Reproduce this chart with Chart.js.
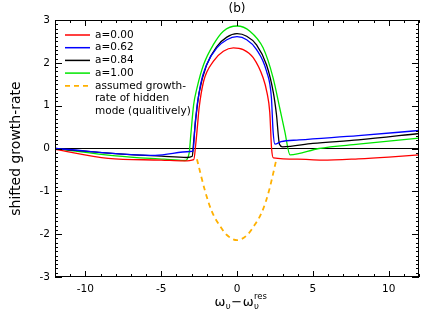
<!DOCTYPE html>
<html lang="en">
<head>
<meta charset="UTF-8">
<title>(b) shifted growth-rate</title>
<script src="https://cdn.jsdelivr.net/npm/chart.js"></script>
<style>
  html, body { margin: 0; padding: 0; background: #fff; }
  #wrap { width: 436px; height: 312px; }
</style>
</head>
<body>
<div id="wrap"><canvas id="chart"></canvas></div>
<script>
// values
const xTicks = [-10, -5, 0, 5, 10];
const yTicks = [-3, -2, -1, 0, 1, 2, 3];

const redX = [-12, -8.5, -5, -3.5, -2.85, -2.72, -2.6, -2.5, -2.2, -1.55, -0.9, -0.24, 0.41, 1.07, 1.72, 1.98, 2.16, 2.28, 2.4, 4, 5.6, 8, 10, 12];
const redY = [-0.02, -0.23, -0.27, -0.29, -0.26, 0.1, 0.55, 0.94, 1.57, 2.04, 2.27, 2.35, 2.31, 2.12, 1.65, 1.3, 0.85, 0.0, -0.22, -0.25, -0.27, -0.24, -0.2, -0.15];

const blueX = [-12, -5.4, -3.1, -2.9, -2.86, -2.75, -2.4, -2.0, -1.33, -0.67, 0, 0.64, 1.29, 1.95, 2.27, 2.38, 2.5, 2.9, 4.1, 8, 12];
const blueY = [0, -0.16, -0.07, -0.06, 0.05, 0.63, 1.5, 1.96, 2.35, 2.54, 2.61, 2.54, 2.31, 1.8, 1.18, 0.4, 0.1, 0.16, 0.2, 0.3, 0.42];

const blackX = [-12, -8, -5, -3.3, -2.95, -2.85, -2.7, -2.5, -2.0, -1.33, -0.67, 0, 0.64, 1.29, 1.95, 2.4, 2.6, 2.8, 3.0, 5, 8, 12];
const blackY = [0, -0.12, -0.18, -0.21, -0.18, 0.2, 0.75, 1.3, 1.95, 2.38, 2.6, 2.68, 2.62, 2.42, 1.95, 1.3, 0.8, 0.1, 0.04, 0.12, 0.2, 0.35];

const greenX = [-12, -8, -4.8, -3.45, -3.15, -3.05, -2.86, -2.64, -2.2, -1.55, -0.9, 0, 0.85, 1.72, 2.38, 2.82, 3.15, 3.5, 5.4, 8, 12];
const greenY = [0, -0.17, -0.25, -0.28, -0.1, 0.3, 1.02, 1.41, 1.96, 2.43, 2.74, 2.86, 2.74, 2.35, 1.65, 0.94, 0.4, -0.15, 0, 0.1, 0.24];

const hiddenX = [-2.64, -2.1, -1.66, -1.1, -0.67, 0, 0.67, 1.1, 1.66, 2.1, 2.6];
const hiddenY = [-0.25, -1.0, -1.47, -1.82, -2.02, -2.14, -2.02, -1.82, -1.47, -1.0, -0.25];

const zeroX = [-12, 12];
const zeroY = [0, 0];

const legendLabels = [
  ['a=0.00'],
  ['a=0.62'],
  ['a=0.84'],
  ['a=1.00'],
  ['assumed growth-', 'rate of hidden', 'mode (qualitively)']
];

function pts(xs, ys) {
  return xs.map((x, i) => ({ x: x, y: ys[i] }));
}

const FONT = 'DejaVu Sans';

// box, inward ticks, legend and titles
const frame = {
  id: 'frame',
  afterDatasetsDraw(chart) {
    const ctx = chart.ctx;
    const a = chart.chartArea;
    const xs = chart.scales.x, ys = chart.scales.y;
    ctx.save();
    ctx.strokeStyle = '#000';
    ctx.lineWidth = 1;
    ctx.strokeRect(a.left + 0.5, a.top + 0.5, a.right - a.left - 1, a.bottom - a.top - 1);

    ctx.beginPath();
    for (let v = -12; v <= 12; v++) {
      const px = Math.round(xs.getPixelForValue(v)) + 0.5;
      const len = v % 5 === 0 ? 6 : 3;
      ctx.moveTo(px, a.bottom); ctx.lineTo(px, a.bottom - len);
      ctx.moveTo(px, a.top); ctx.lineTo(px, a.top + len);
    }
    for (let k = -30; k <= 30; k++) {
      const py = Math.round(ys.getPixelForValue(k / 10)) + 0.5;
      const len = k % 10 === 0 ? 7 : 3;
      ctx.moveTo(a.left, py); ctx.lineTo(a.left + len, py);
      ctx.moveTo(a.right, py); ctx.lineTo(a.right - len, py);
    }
    ctx.stroke();

    // legend
    ctx.font = '10.5px "' + FONT + '"';
    ctx.textBaseline = 'middle';
    ctx.fillStyle = '#000';
    let y = a.top + 15;
    chart.data.datasets.forEach((ds, i) => {
      if (!legendLabels[i]) return;
      ctx.save();
      ctx.strokeStyle = ds.borderColor;
      ctx.lineWidth = ds.borderWidth || 1.5;
      ctx.setLineDash(ds.borderDash || []);
      ctx.beginPath();
      ctx.moveTo(a.left + 10, y); ctx.lineTo(a.left + 35, y);
      ctx.stroke();
      ctx.restore();
      legendLabels[i].forEach(line => {
        ctx.fillText(line, a.left + 40, y);
        y += 12.7;
      });
    });

    // top title
    ctx.textAlign = 'center';
    ctx.textBaseline = 'alphabetic';
    ctx.font = '12px "' + FONT + '"';
    ctx.fillText('(b)', (a.left + a.right) / 2, 12);

    // x axis title with sub- and superscripts
    const base = 306;
    const main = '13px "' + FONT + '"', small = '8.5px "' + FONT + '"';
    const parts = [
      { t: 'ω', f: main, dy: 0 },
      { t: 'υ', f: small, dy: 3 },
      { t: '−', f: main, dy: 0 },
      { t: 'ω', f: main, dy: 0 },
      { t: 'υ', f: small, dy: 3, sup: 'res' }
    ];
    let total = 0;
    parts.forEach(p => {
      ctx.font = p.f;
      p.w = ctx.measureText(p.t).width;
      if (p.sup) p.w = Math.max(p.w, ctx.measureText(p.sup).width);
      total += p.w + 0.5;
    });
    let x = (a.left + a.right) / 2 + 4 - total / 2;
    ctx.textAlign = 'left';
    parts.forEach(p => {
      ctx.font = p.f;
      ctx.fillText(p.t, x, base + p.dy);
      if (p.sup) ctx.fillText(p.sup, x, base - 7);
      x += p.w + 0.5;
    });
    ctx.restore();
  }
};

new Chart(document.getElementById('chart'), {
  type: 'line',
  data: {
    datasets: [
      { label: 'a=0.00', data: pts(redX, redY), borderColor: '#ff0000' },
      { label: 'a=0.62', data: pts(blueX, blueY), borderColor: '#0000ff' },
      { label: 'a=0.84', data: pts(blackX, blackY), borderColor: '#000000' },
      { label: 'a=1.00', data: pts(greenX, greenY), borderColor: '#00e600' },
      { label: 'assumed growth-rate of hidden mode (qualitively)', data: pts(hiddenX, hiddenY),
        borderColor: '#ffb000', borderDash: [5, 4], borderWidth: 1.8 },
      { label: 'zero', data: pts(zeroX, zeroY), borderColor: '#000000', borderWidth: 1,
        cubicInterpolationMode: 'default' }
    ]
  },
  options: {
    responsive: true,
    maintainAspectRatio: false,
    animation: false,
    layout: { padding: { top: 20, right: 17, left: 0, bottom: 0 } },
    elements: {
      point: { radius: 0 },
      line: { borderWidth: 1.3, cubicInterpolationMode: 'monotone', fill: false }
    },
    plugins: { legend: { display: false }, tooltip: { enabled: false } },
    scales: {
      x: {
        type: 'linear', min: -12, max: 12,
        grid: { display: false, drawTicks: false },
        border: { display: false },
        afterBuildTicks: s => { s.ticks = xTicks.map(v => ({ value: v })); },
        afterFit: s => { s.height = 35; },
        ticks: { padding: 6, color: '#000', font: { family: FONT, size: 10.5 } }
      },
      y: {
        type: 'linear', min: -3, max: 3,
        grid: { display: false, drawTicks: false },
        border: { display: false },
        afterBuildTicks: s => { s.ticks = yTicks.map(v => ({ value: v })); },
        afterFit: s => { s.width = 55; },
        ticks: { padding: 5, color: '#000', font: { family: FONT, size: 10.5 } },
        title: { display: true, text: 'shifted growth-rate', color: '#000',
                 padding: { top: 8, bottom: 0 }, font: { family: FONT, size: 14 } }
      }
    }
  },
  plugins: [frame]
});
</script>
</body>
</html>
